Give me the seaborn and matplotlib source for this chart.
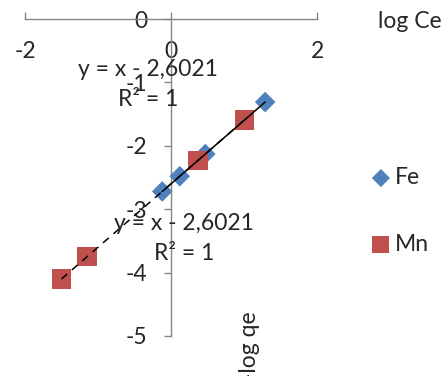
import numpy as np
import pandas as pd
import seaborn as sns
import matplotlib.pyplot as plt

# data (log Ce, -log qe)
fe_x = [-0.12, 0.12, 0.47, 1.29]
fe_y = [-2.72, -2.48, -2.13, -1.31]
mn_x = [-1.50, -1.15, 0.37, 1.01]
mn_y = [-4.10, -3.75, -2.23, -1.59]
x_ticks = [-2, 0, 2]
y_ticks = [0, -1, -2, -3, -4, -5]
eq_text = "y = x - 2,6021"
r2_text = "R² = 1"

df = pd.DataFrame({
    'logCe': fe_x + mn_x,
    'logqe': fe_y + mn_y,
    'metal': ['Fe'] * len(fe_x) + ['Mn'] * len(mn_x),
})

sns.set_style('white')
plt.rcParams['font.family'] = ['Lato', 'DejaVu Sans']
plt.rcParams['axes.unicode_minus'] = False

W, H = 445, 376
FS = 16.5
fig = plt.figure(figsize=(W / 100, H / 100), dpi=100)


def px(x, y):
    return x / W, 1 - y / H


# axes box: x -2..2 -> 25..317 px, y 0..-5 -> 19..336 px
ax = fig.add_axes([25 / W, 1 - 336 / H, 292 / W, 317 / H])
ax.set_xlim(-2, 2)
ax.set_ylim(-5, 0)

blue = '#4F81BD'
red = '#C0504D'

# trendlines
for xs, ys, ls in [(fe_x, fe_y, '-'), (mn_x, mn_y, (0, (5, 4)))]:
    k, b = np.polyfit(xs, ys, 1)
    xx = np.array([min(xs), max(xs)])
    ax.plot(xx, k * xx + b, color='black', lw=1.1, ls=ls, zorder=4, clip_on=False)

sns.scatterplot(data=df[df.metal == 'Fe'], x='logCe', y='logqe', marker='D', s=10.5 ** 2,
                color=blue, edgecolor='none', label='Fe', ax=ax, zorder=3, clip_on=False)
sns.scatterplot(data=df[df.metal == 'Mn'], x='logCe', y='logqe', marker='s', s=14 ** 2,
                color=red, edgecolor='none', label='Mn', ax=ax, zorder=3, clip_on=False)

# axes crossing at the origin
for s in ['top', 'right']:
    ax.spines[s].set_visible(False)
ax.spines['bottom'].set_position(('data', 0))
ax.spines['left'].set_position(('data', 0))
for s in ['bottom', 'left']:
    ax.spines[s].set_color('#868686')
    ax.spines[s].set_linewidth(1.0)

ax.set_xticks(x_ticks)
ax.set_yticks(y_ticks)
ax.set_xticklabels([str(t) for t in x_ticks])
ax.set_yticklabels([str(t) for t in y_ticks])
ax.tick_params(axis='x', direction='in', length=5, width=1, color='#868686',
               labelsize=FS, pad=16, bottom=True)
ax.tick_params(axis='y', direction='out', length=5, width=1, color='#868686',
               labelsize=FS, pad=12, left=True)
ax.set_xlabel('')
ax.set_ylabel('')

# trendline equations
kw = dict(fontsize=FS, ha='center', va='center', transform=fig.transFigure)
fig.text(*px(148, 69), eq_text, **kw)
fig.text(*px(148, 100), r2_text, **kw)
fig.text(*px(184, 223), eq_text, **kw)
fig.text(*px(184, 253), r2_text, **kw)

# axis titles
fig.text(*px(410, 22), 'log Ce', fontsize=FS, ha='center', va='center')
fig.text(*px(249, 311), '-log qe', fontsize=FS, ha='center', va='top', rotation=90)

ax.legend(loc='center left', bbox_to_anchor=px(358, 211), bbox_transform=fig.transFigure,
          frameon=False, fontsize=FS, labelspacing=2.0, handletextpad=0.0,
          handlelength=1.2, markerscale=0.88, borderaxespad=0)

fig.savefig('out.png', dpi=100)
